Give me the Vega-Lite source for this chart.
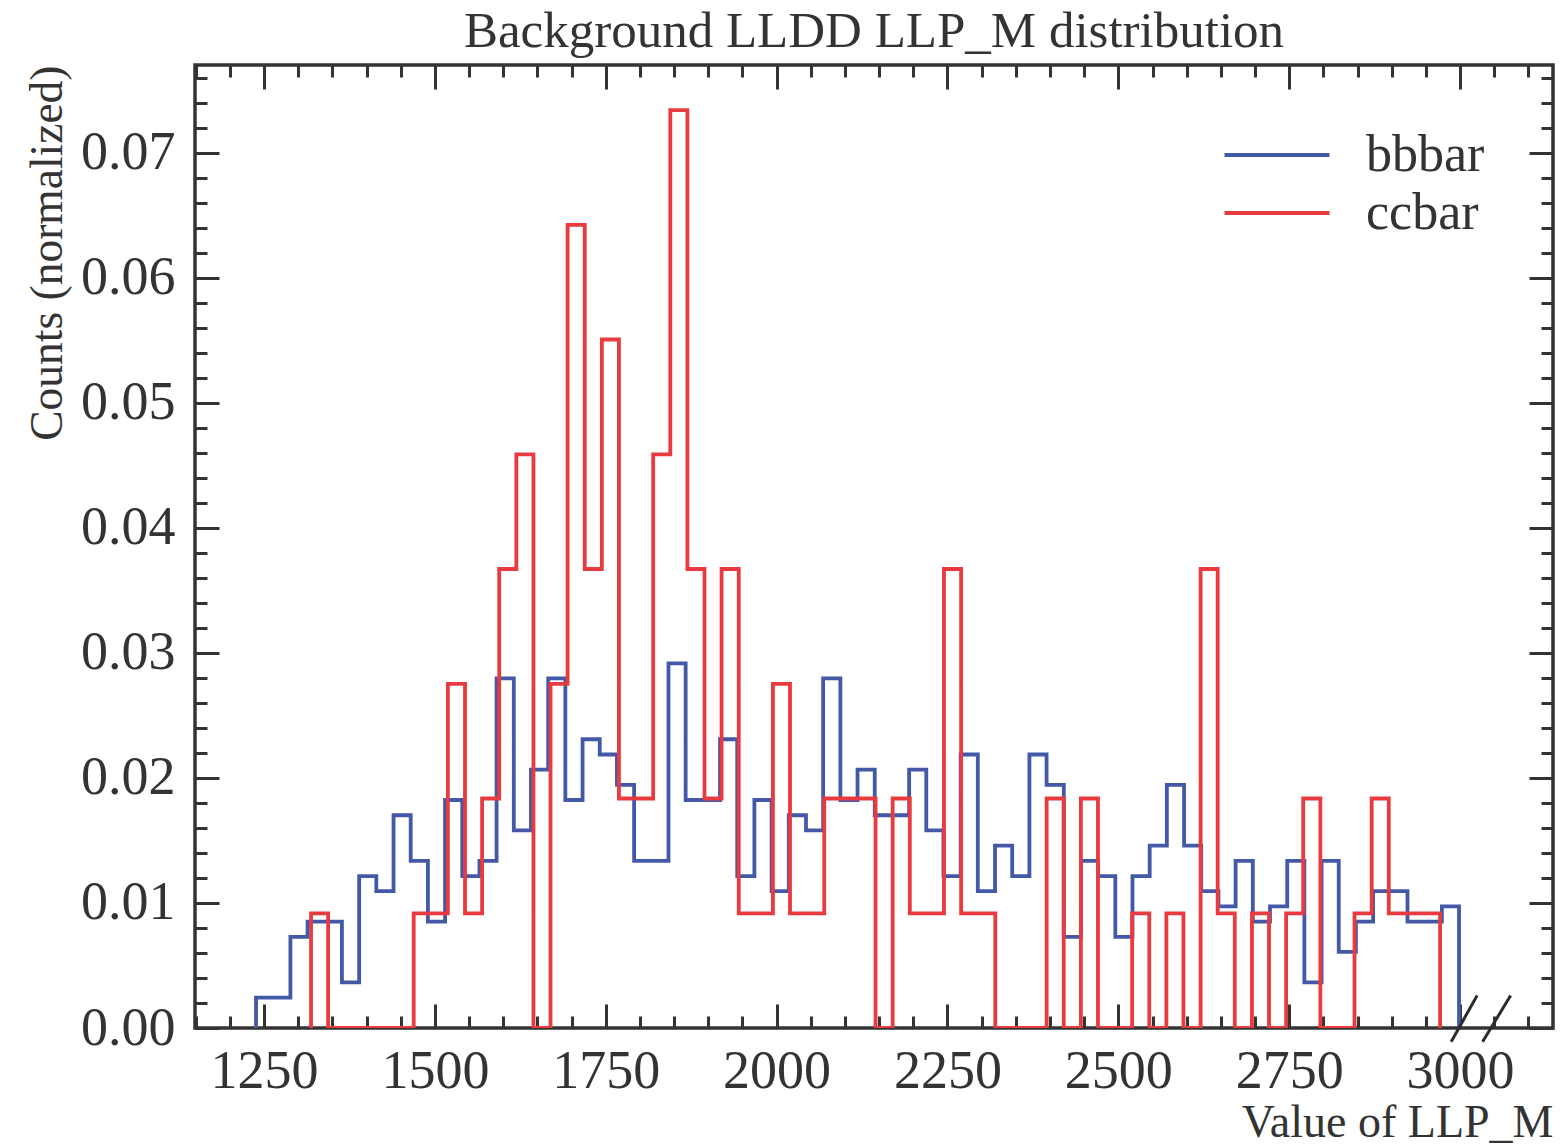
{
  "$schema": "https://vega.github.io/schema/vega-lite/v6.json",
  "autosize": {"type": "none"},
  "width": 1358,
  "height": 963,
  "padding": {"left": 195, "top": 65, "right": 9, "bottom": 117},
  "title": {"text": "Background LLDD LLP_M distribution", "font": "Liberation Serif", "fontSize": 51, "fontWeight": "normal", "color": "#333333", "offset": 6},
  "datasets": {
    "hist": [
      {"s": "bbbar", "i": 0, "x": 1238.3, "y": 0},
      {"s": "bbbar", "i": 1, "x": 1238.3, "y": 0.00243},
      {"s": "bbbar", "i": 2, "x": 1263.4, "y": 0.00243},
      {"s": "bbbar", "i": 3, "x": 1288.6, "y": 0.00729},
      {"s": "bbbar", "i": 4, "x": 1313.7, "y": 0.00851},
      {"s": "bbbar", "i": 5, "x": 1338.9, "y": 0.00851},
      {"s": "bbbar", "i": 6, "x": 1364.0, "y": 0.00365},
      {"s": "bbbar", "i": 7, "x": 1389.2, "y": 0.01215},
      {"s": "bbbar", "i": 8, "x": 1414.3, "y": 0.01094},
      {"s": "bbbar", "i": 9, "x": 1439.5, "y": 0.01701},
      {"s": "bbbar", "i": 10, "x": 1464.6, "y": 0.01337},
      {"s": "bbbar", "i": 11, "x": 1489.8, "y": 0.00851},
      {"s": "bbbar", "i": 12, "x": 1514.9, "y": 0.01823},
      {"s": "bbbar", "i": 13, "x": 1540.1, "y": 0.01215},
      {"s": "bbbar", "i": 14, "x": 1565.2, "y": 0.01337},
      {"s": "bbbar", "i": 15, "x": 1590.3, "y": 0.02795},
      {"s": "bbbar", "i": 16, "x": 1615.5, "y": 0.0158},
      {"s": "bbbar", "i": 17, "x": 1640.6, "y": 0.02066},
      {"s": "bbbar", "i": 18, "x": 1665.8, "y": 0.02795},
      {"s": "bbbar", "i": 19, "x": 1690.9, "y": 0.01823},
      {"s": "bbbar", "i": 20, "x": 1716.1, "y": 0.02309},
      {"s": "bbbar", "i": 21, "x": 1741.2, "y": 0.02187},
      {"s": "bbbar", "i": 22, "x": 1766.4, "y": 0.01944},
      {"s": "bbbar", "i": 23, "x": 1791.5, "y": 0.01337},
      {"s": "bbbar", "i": 24, "x": 1816.7, "y": 0.01337},
      {"s": "bbbar", "i": 25, "x": 1841.8, "y": 0.02916},
      {"s": "bbbar", "i": 26, "x": 1866.9, "y": 0.01823},
      {"s": "bbbar", "i": 27, "x": 1892.1, "y": 0.01823},
      {"s": "bbbar", "i": 28, "x": 1917.2, "y": 0.02309},
      {"s": "bbbar", "i": 29, "x": 1942.4, "y": 0.01215},
      {"s": "bbbar", "i": 30, "x": 1967.5, "y": 0.01823},
      {"s": "bbbar", "i": 31, "x": 1992.7, "y": 0.01094},
      {"s": "bbbar", "i": 32, "x": 2017.8, "y": 0.01701},
      {"s": "bbbar", "i": 33, "x": 2043.0, "y": 0.0158},
      {"s": "bbbar", "i": 34, "x": 2068.1, "y": 0.02795},
      {"s": "bbbar", "i": 35, "x": 2093.3, "y": 0.01823},
      {"s": "bbbar", "i": 36, "x": 2118.4, "y": 0.02066},
      {"s": "bbbar", "i": 37, "x": 2143.6, "y": 0.01701},
      {"s": "bbbar", "i": 38, "x": 2168.7, "y": 0.01701},
      {"s": "bbbar", "i": 39, "x": 2193.9, "y": 0.02066},
      {"s": "bbbar", "i": 40, "x": 2219.0, "y": 0.0158},
      {"s": "bbbar", "i": 41, "x": 2244.1, "y": 0.01215},
      {"s": "bbbar", "i": 42, "x": 2269.3, "y": 0.02187},
      {"s": "bbbar", "i": 43, "x": 2294.4, "y": 0.01094},
      {"s": "bbbar", "i": 44, "x": 2319.6, "y": 0.01458},
      {"s": "bbbar", "i": 45, "x": 2344.7, "y": 0.01215},
      {"s": "bbbar", "i": 46, "x": 2369.9, "y": 0.02187},
      {"s": "bbbar", "i": 47, "x": 2395.0, "y": 0.01944},
      {"s": "bbbar", "i": 48, "x": 2420.2, "y": 0.00729},
      {"s": "bbbar", "i": 49, "x": 2445.3, "y": 0.01337},
      {"s": "bbbar", "i": 50, "x": 2470.5, "y": 0.01215},
      {"s": "bbbar", "i": 51, "x": 2495.6, "y": 0.00729},
      {"s": "bbbar", "i": 52, "x": 2520.7, "y": 0.01215},
      {"s": "bbbar", "i": 53, "x": 2545.9, "y": 0.01458},
      {"s": "bbbar", "i": 54, "x": 2571.0, "y": 0.01944},
      {"s": "bbbar", "i": 55, "x": 2596.2, "y": 0.01458},
      {"s": "bbbar", "i": 56, "x": 2621.3, "y": 0.01094},
      {"s": "bbbar", "i": 57, "x": 2646.5, "y": 0.00972},
      {"s": "bbbar", "i": 58, "x": 2671.6, "y": 0.01337},
      {"s": "bbbar", "i": 59, "x": 2696.8, "y": 0.00851},
      {"s": "bbbar", "i": 60, "x": 2721.9, "y": 0.00972},
      {"s": "bbbar", "i": 61, "x": 2747.1, "y": 0.01337},
      {"s": "bbbar", "i": 62, "x": 2772.2, "y": 0.00365},
      {"s": "bbbar", "i": 63, "x": 2797.4, "y": 0.01337},
      {"s": "bbbar", "i": 64, "x": 2822.5, "y": 0.00608},
      {"s": "bbbar", "i": 65, "x": 2847.6, "y": 0.00851},
      {"s": "bbbar", "i": 66, "x": 2872.8, "y": 0.01094},
      {"s": "bbbar", "i": 67, "x": 2897.9, "y": 0.01094},
      {"s": "bbbar", "i": 68, "x": 2923.1, "y": 0.00851},
      {"s": "bbbar", "i": 69, "x": 2948.2, "y": 0.00851},
      {"s": "bbbar", "i": 70, "x": 2973.4, "y": 0.00972},
      {"s": "bbbar", "i": 71, "x": 2998.5, "y": 0},
      {"s": "ccbar", "i": 0, "x": 1318.8, "y": 0},
      {"s": "ccbar", "i": 1, "x": 1318.8, "y": 0.00917},
      {"s": "ccbar", "i": 2, "x": 1343.8, "y": 0},
      {"s": "ccbar", "i": 3, "x": 1368.9, "y": 0},
      {"s": "ccbar", "i": 4, "x": 1393.9, "y": 0},
      {"s": "ccbar", "i": 5, "x": 1418.9, "y": 0},
      {"s": "ccbar", "i": 6, "x": 1444.0, "y": 0},
      {"s": "ccbar", "i": 7, "x": 1469.0, "y": 0.00917},
      {"s": "ccbar", "i": 8, "x": 1494.0, "y": 0.00917},
      {"s": "ccbar", "i": 9, "x": 1519.0, "y": 0.02752},
      {"s": "ccbar", "i": 10, "x": 1544.1, "y": 0.00917},
      {"s": "ccbar", "i": 11, "x": 1569.1, "y": 0.01835},
      {"s": "ccbar", "i": 12, "x": 1594.1, "y": 0.0367},
      {"s": "ccbar", "i": 13, "x": 1619.2, "y": 0.04587},
      {"s": "ccbar", "i": 14, "x": 1644.2, "y": 0},
      {"s": "ccbar", "i": 15, "x": 1669.2, "y": 0.02752},
      {"s": "ccbar", "i": 16, "x": 1694.2, "y": 0.06422},
      {"s": "ccbar", "i": 17, "x": 1719.3, "y": 0.0367},
      {"s": "ccbar", "i": 18, "x": 1744.3, "y": 0.05505},
      {"s": "ccbar", "i": 19, "x": 1769.3, "y": 0.01835},
      {"s": "ccbar", "i": 20, "x": 1794.4, "y": 0.01835},
      {"s": "ccbar", "i": 21, "x": 1819.4, "y": 0.04587},
      {"s": "ccbar", "i": 22, "x": 1844.4, "y": 0.07339},
      {"s": "ccbar", "i": 23, "x": 1869.5, "y": 0.0367},
      {"s": "ccbar", "i": 24, "x": 1894.5, "y": 0.01835},
      {"s": "ccbar", "i": 25, "x": 1919.5, "y": 0.0367},
      {"s": "ccbar", "i": 26, "x": 1944.6, "y": 0.00917},
      {"s": "ccbar", "i": 27, "x": 1969.6, "y": 0.00917},
      {"s": "ccbar", "i": 28, "x": 1994.6, "y": 0.02752},
      {"s": "ccbar", "i": 29, "x": 2019.6, "y": 0.00917},
      {"s": "ccbar", "i": 30, "x": 2044.7, "y": 0.00917},
      {"s": "ccbar", "i": 31, "x": 2069.7, "y": 0.01835},
      {"s": "ccbar", "i": 32, "x": 2094.7, "y": 0.01835},
      {"s": "ccbar", "i": 33, "x": 2119.8, "y": 0.01835},
      {"s": "ccbar", "i": 34, "x": 2144.8, "y": 0},
      {"s": "ccbar", "i": 35, "x": 2169.8, "y": 0.01835},
      {"s": "ccbar", "i": 36, "x": 2194.9, "y": 0.00917},
      {"s": "ccbar", "i": 37, "x": 2219.9, "y": 0.00917},
      {"s": "ccbar", "i": 38, "x": 2244.9, "y": 0.0367},
      {"s": "ccbar", "i": 39, "x": 2270.0, "y": 0.00917},
      {"s": "ccbar", "i": 40, "x": 2295.0, "y": 0.00917},
      {"s": "ccbar", "i": 41, "x": 2320.0, "y": 0},
      {"s": "ccbar", "i": 42, "x": 2345.0, "y": 0},
      {"s": "ccbar", "i": 43, "x": 2370.1, "y": 0},
      {"s": "ccbar", "i": 44, "x": 2395.1, "y": 0.01835},
      {"s": "ccbar", "i": 45, "x": 2420.1, "y": 0},
      {"s": "ccbar", "i": 46, "x": 2445.2, "y": 0.01835},
      {"s": "ccbar", "i": 47, "x": 2470.2, "y": 0},
      {"s": "ccbar", "i": 48, "x": 2495.2, "y": 0},
      {"s": "ccbar", "i": 49, "x": 2520.2, "y": 0.00917},
      {"s": "ccbar", "i": 50, "x": 2545.3, "y": 0},
      {"s": "ccbar", "i": 51, "x": 2570.3, "y": 0.00917},
      {"s": "ccbar", "i": 52, "x": 2595.3, "y": 0},
      {"s": "ccbar", "i": 53, "x": 2620.4, "y": 0.0367},
      {"s": "ccbar", "i": 54, "x": 2645.4, "y": 0.00917},
      {"s": "ccbar", "i": 55, "x": 2670.4, "y": 0},
      {"s": "ccbar", "i": 56, "x": 2695.5, "y": 0.00917},
      {"s": "ccbar", "i": 57, "x": 2720.5, "y": 0},
      {"s": "ccbar", "i": 58, "x": 2745.5, "y": 0.00917},
      {"s": "ccbar", "i": 59, "x": 2770.5, "y": 0.01835},
      {"s": "ccbar", "i": 60, "x": 2795.6, "y": 0},
      {"s": "ccbar", "i": 61, "x": 2820.6, "y": 0},
      {"s": "ccbar", "i": 62, "x": 2845.6, "y": 0.00917},
      {"s": "ccbar", "i": 63, "x": 2870.7, "y": 0.01835},
      {"s": "ccbar", "i": 64, "x": 2895.7, "y": 0.00917},
      {"s": "ccbar", "i": 65, "x": 2920.7, "y": 0.00917},
      {"s": "ccbar", "i": 66, "x": 2945.8, "y": 0.00917},
      {"s": "ccbar", "i": 67, "x": 2970.8, "y": 0}
    ],
    "brk": [
      {"g": "a", "x": 2987, "y": -0.0011},
      {"g": "a", "x": 3025, "y": 0.0026},
      {"g": "b", "x": 3033, "y": -0.0011},
      {"g": "b", "x": 3074, "y": 0.0026}
    ]
  },
  "data": {"name": "hist"},
  "resolve": {"axis": {"x": "independent", "y": "independent"}},
  "layer": [
    {
      "mark": {"type": "line", "interpolate": "step-after", "strokeWidth": 3.8, "clip": true},
      "encoding": {
        "x": {"field": "x", "type": "quantitative", "scale": {"domain": [1149, 3136], "nice": false, "zero": false},
          "axis": {"orient": "bottom", "values": [1250, 1500, 1750, 2000, 2250, 2500, 2750, 3000], "tickSize": -24, "labelPadding": 40, "labelFontSize": 54, "format": "d",
            "title": "Value of LLP_M", "titleAnchor": "end", "titleFontSize": 46, "titlePadding": 2}},
        "y": {"field": "y", "type": "quantitative", "scale": {"domain": [0, 0.077], "nice": false, "zero": false},
          "axis": {"orient": "left", "values": [0, 0.01, 0.02, 0.03, 0.04, 0.05, 0.06, 0.07], "tickSize": -24, "labelPadding": 44, "labelFontSize": 54, "format": ".2f",
            "title": "Counts (normalized)", "titleAnchor": "end", "titleFontSize": 45.5, "titlePadding": 9}},
        "color": {"field": "s", "type": "nominal", "scale": {"domain": ["bbbar", "ccbar"], "range": ["#4458a8", "#e93a3f"]},
          "legend": {"orient": "none", "legendX": 1056, "legendY": 64, "title": null}},
        "order": {"field": "i", "type": "quantitative"}
      }
    },
    {
      "mark": {"type": "point", "opacity": 0},
      "encoding": {
        "x": {"field": "x", "type": "quantitative", "scale": {"domain": [1149, 3136], "nice": false, "zero": false},
          "axis": {"orient": "bottom", "values": [1150,1200,1250,1300,1350,1400,1450,1500,1550,1600,1650,1700,1750,1800,1850,1900,1950,2000,2050,2100,2150,2200,2250,2300,2350,2400,2450,2500,2550,2600,2650,2700,2750,2800,2850,2900,2950,3000,3050,3100], "tickSize": -12, "labels": false, "title": null}},
        "y": {"field": "y", "type": "quantitative", "scale": {"domain": [0, 0.077], "nice": false, "zero": false},
          "axis": {"orient": "left", "values": [0.002,0.004,0.006,0.008,0.01,0.012,0.014,0.016,0.018,0.02,0.022,0.024,0.026,0.028,0.03,0.032,0.034,0.036,0.038,0.04,0.042,0.044,0.046,0.048,0.05,0.052,0.054,0.056,0.058,0.06,0.062,0.064,0.066,0.068,0.07,0.072,0.074,0.076], "tickSize": -12, "labels": false, "title": null}}
      }
    },
    {
      "mark": {"type": "point", "opacity": 0},
      "encoding": {
        "x": {"field": "x", "type": "quantitative", "scale": {"domain": [1149, 3136], "nice": false, "zero": false},
          "axis": {"orient": "top", "values": [1250, 1500, 1750, 2000, 2250, 2500, 2750, 3000], "tickSize": -24, "labels": false, "title": null}},
        "y": {"field": "y", "type": "quantitative", "scale": {"domain": [0, 0.077], "nice": false, "zero": false},
          "axis": {"orient": "right", "values": [0, 0.01, 0.02, 0.03, 0.04, 0.05, 0.06, 0.07], "tickSize": -24, "labels": false, "title": null}}
      }
    },
    {
      "mark": {"type": "point", "opacity": 0},
      "encoding": {
        "x": {"field": "x", "type": "quantitative", "scale": {"domain": [1149, 3136], "nice": false, "zero": false},
          "axis": {"orient": "top", "values": [1150,1200,1250,1300,1350,1400,1450,1500,1550,1600,1650,1700,1750,1800,1850,1900,1950,2000,2050,2100,2150,2200,2250,2300,2350,2400,2450,2500,2550,2600,2650,2700,2750,2800,2850,2900,2950,3000,3050,3100], "tickSize": -12, "labels": false, "title": null}},
        "y": {"field": "y", "type": "quantitative", "scale": {"domain": [0, 0.077], "nice": false, "zero": false},
          "axis": {"orient": "right", "values": [0.002,0.004,0.006,0.008,0.01,0.012,0.014,0.016,0.018,0.02,0.022,0.024,0.026,0.028,0.03,0.032,0.034,0.036,0.038,0.04,0.042,0.044,0.046,0.048,0.05,0.052,0.054,0.056,0.058,0.06,0.062,0.064,0.066,0.068,0.07,0.072,0.074,0.076], "tickSize": -12, "labels": false, "title": null}}
      }
    },
    {
      "data": {"name": "brk"},
      "mark": {"type": "line", "color": "#2b2b2b", "strokeWidth": 3, "clip": false},
      "encoding": {
        "x": {"field": "x", "type": "quantitative", "scale": {"domain": [1149, 3136], "nice": false, "zero": false}, "axis": null},
        "y": {"field": "y", "type": "quantitative", "scale": {"domain": [0, 0.077], "nice": false, "zero": false}, "axis": null},
        "detail": {"field": "g", "type": "nominal"}
      }
    }
  ],
  "config": {
    "view": {"stroke": "#333333", "strokeWidth": 3.5},
    "font": "Liberation Serif",
    "axis": {"domain": false, "grid": false, "tickColor": "#333333", "tickWidth": 3, "labelColor": "#333333", "titleColor": "#333333", "labelFont": "Liberation Serif", "titleFont": "Liberation Serif", "titleFontWeight": "normal", "zindex": 1},
    "legend": {"labelFont": "Liberation Serif", "labelFontSize": 52, "labelColor": "#333333", "symbolType": "M-3,0H3", "symbolSize": 1225, "symbolStrokeWidth": 4, "labelOffset": 63, "rowPadding": 6}
  }
}
